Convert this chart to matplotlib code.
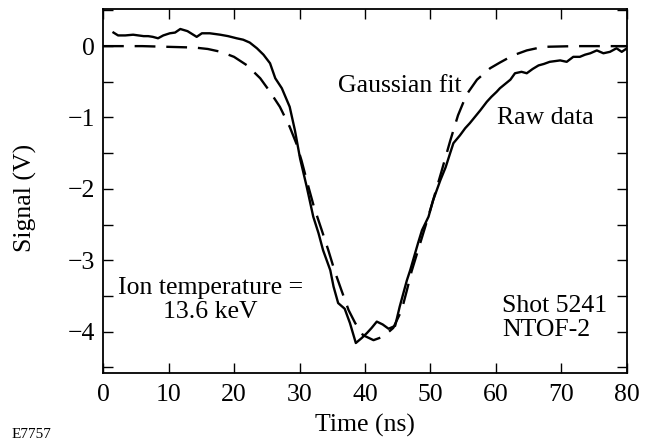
import matplotlib
matplotlib.use("Agg")
import matplotlib.pyplot as plt
from matplotlib.ticker import MultipleLocator

plt.rcParams['font.family'] = ['Liberation Serif', 'DejaVu Serif']
plt.rcParams['font.size'] = 18.5

# raw neutron time-of-flight signal
raw_t = [1.6, 2.3, 3.4, 4.6, 5.4, 6.2, 6.9, 7.6, 8.4, 9.2, 10.2, 11.0, 11.8,
         12.9, 13.6, 14.3, 15.1, 16.3, 17.1, 17.9, 19.1, 20.4, 21.4, 22.4,
         23.5, 24.5, 25.5, 26.3, 27.3, 28.5, 29.3, 30.1, 31.1, 32.1, 32.9,
         33.6, 34.7, 35.2, 35.9, 36.9, 37.7, 38.6, 39.5, 40.3, 41.0, 41.8,
         42.7, 43.6, 44.6, 45.3, 46.4, 46.9, 48.1, 48.7, 49.7, 50.4, 51.5,
         52.3, 53.0, 53.5, 54.5, 55.3, 56.0, 56.8, 57.6, 58.6, 59.3, 60.1,
         60.6, 61.4, 62.2, 62.9, 63.9, 64.7, 65.6, 66.5, 67.3, 68.2, 69.0,
         69.8, 70.8, 71.8, 72.8, 73.6, 74.4, 75.4, 76.4, 77.4, 78.4, 79.2,
         80.0]
raw_v = [0.19, 0.15, 0.15, 0.16, 0.15, 0.14, 0.14, 0.13, 0.11, 0.15, 0.18,
         0.19, 0.24, 0.21, 0.17, 0.13, 0.18, 0.18, 0.17, 0.16, 0.14, 0.11,
         0.09, 0.05, -0.03, -0.12, -0.24, -0.45, -0.59, -0.85, -1.18, -1.58,
         -1.97, -2.39, -2.62, -2.86, -3.14, -3.37, -3.60, -3.68, -3.88, -4.16,
         -4.09, -4.02, -3.95, -3.86, -3.90, -3.96, -3.92, -3.65, -3.28, -3.14,
         -2.76, -2.58, -2.39, -2.16, -1.88, -1.70, -1.50, -1.36, -1.25, -1.15,
         -1.08, -0.99, -0.90, -0.78, -0.71, -0.64, -0.59, -0.53, -0.47, -0.38,
         -0.36, -0.38, -0.32, -0.27, -0.25, -0.22, -0.21, -0.20, -0.22, -0.15,
         -0.15, -0.12, -0.10, -0.06, -0.10, -0.08, -0.03, -0.08, -0.03]

# gaussian fit to the signal
fit_t = [0, 6, 10, 14, 16, 18, 20, 22, 24, 25.5, 27, 28.5, 29.5, 30.3, 31.3,
         32.2, 33.4, 34.4, 35.4, 36.4, 37.5, 38.5, 39.7, 41.3, 42.8, 44.3,
         45.6, 46.4, 47.1, 48.1, 49.2, 50.4, 51.7, 53.0, 54.2, 55.5, 57.1,
         59.1, 60.6, 62.6, 64.7, 67.2, 72, 80]
fit_v = [0, 0, -0.01, -0.02, -0.04, -0.08, -0.15, -0.27, -0.45, -0.64, -0.85,
         -1.13, -1.36, -1.60, -1.95, -2.25, -2.58, -2.86, -3.16, -3.42, -3.70,
         -3.88, -4.05, -4.12, -4.07, -3.95, -3.70, -3.42, -3.16, -2.86, -2.53,
         -2.16, -1.75, -1.33, -0.97, -0.68, -0.47, -0.31, -0.23, -0.13, -0.06,
         -0.01, 0, 0]

fig = plt.figure(figsize=(6.57, 4.40), dpi=100)
ax = fig.add_axes([0.1568, 0.1523, 0.7975, 0.8272])

ax.plot(raw_t, raw_v, color='black', lw=1.7)
ax.plot(fit_t, fit_v, color='black', lw=1.7, linestyle=(0, (8.8, 4.6)))

ax.set_xlim(0, 80)
ax.set_ylim(-4.58, 0.52)
ax.xaxis.set_major_locator(MultipleLocator(10))
ax.yaxis.set_major_locator(MultipleLocator(1))
ax.yaxis.set_minor_locator(MultipleLocator(0.5))
ax.tick_params(which='both', direction='in', top=True, right=True,
               length=7, width=1.0)
ax.tick_params(axis='x', pad=8)
ax.tick_params(axis='y', pad=6)
for s in ax.spines.values():
    s.set_linewidth(1.3)

ax.set_yticks([0, -1, -2, -3, -4])
ax.set_yticklabels(['0', '\u22121', '\u22122', '\u22123', '\u22124'])

ax.set_xlabel('Time (ns)')
ax.xaxis.set_label_coords(0.5, -0.113)
ax.set_ylabel('Signal (V)')
ax.yaxis.set_label_coords(-0.126, 0.48)

ax.text(35.9, -0.56, 'Gaussian fit', ha='left', va='center')
ax.text(60.1, -1.01, 'Raw data', ha='left', va='center')
ax.text(16.4, -3.56, 'Ion temperature =\n13.6 keV', ha='center', va='center',
        multialignment='center', linespacing=1.12)
ax.text(60.9, -3.81, 'Shot 5241\nNTOF-2', ha='left', va='center',
        linespacing=1.12)

fig.text(12 / 657, 1 - 434 / 440, 'E7757', fontsize=11, ha='left', va='center')

fig.savefig('out.png', dpi=100)
